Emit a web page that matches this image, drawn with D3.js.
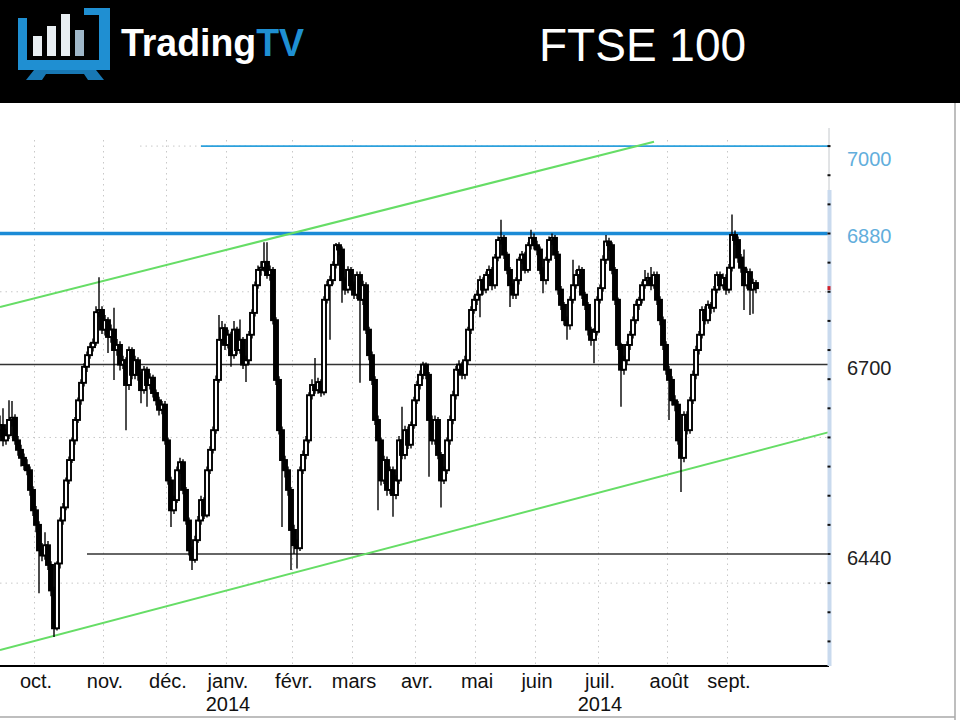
<!DOCTYPE html>
<html>
<head>
<meta charset="utf-8">
<script src="https://cdn.jsdelivr.net/npm/d3@7"></script>
<style>
  html, body { margin: 0; padding: 0; background: #fff; }
  svg { display: block; font-family: "Liberation Sans", Arial, sans-serif; }
</style>
</head>
<body>
<svg id="chart" width="960" height="720"></svg>
<script>
/* ---------- Data (daily FTSE 100, mid-Sept 2013 -> mid-Sept 2014) ---------- */
const firstOpen = 6610;
const closes = [
  6617,6596,6603,6624,6627,6596,6583,6572,6562,6555,
  6528,6500,6480,6445,6438,6452,6425,6390,6338,6427,
  6486,6504,6541,6569,6596,6624,6651,6675,6697,6713,
  6724,6730,6772,6775,6748,6761,6738,6748,6720,6727,
  6700,6706,6672,6720,6686,6706,6686,6665,6693,6672,
  6682,6661,6651,6638,6645,6596,6541,6500,6514,6555,
  6566,6528,6486,6445,6432,6459,6486,6514,6493,6555,
  6583,6610,6679,6734,6750,6727,6741,6713,6748,6720,
  6734,6700,6706,6741,6771,6809,6830,6833,6841,6823,
  6830,6761,6679,6610,6569,6555,6528,6473,6452,6448,
  6555,6576,6596,6658,6672,6665,6676,6662,6789,6809,
  6816,6837,6864,6858,6816,6803,6830,6809,6796,6823,
  6789,6809,6748,6713,6679,6624,6596,6541,6569,6528,
  6555,6521,6541,6596,6576,6610,6590,6617,6651,6672,
  6686,6700,6686,6624,6596,6624,6576,6541,6555,6596,
  6624,6658,6693,6700,6686,6706,6748,6775,6789,6796,
  6816,6803,6823,6830,6809,6847,6871,6874,6851,6830,
  6809,6796,6816,6844,6851,6830,6864,6874,6864,6858,
  6830,6816,6844,6871,6874,6851,6803,6782,6761,6754,
  6789,6809,6823,6830,6796,6782,6748,6734,6745,6789,
  6805,6844,6869,6864,6830,6789,6727,6693,6706,6727,
  6741,6761,6782,6789,6809,6816,6819,6809,6823,6789,
  6761,6727,6693,6679,6651,6645,6596,6572,6631,6610,
  6651,6686,6720,6741,6775,6761,6782,6778,6803,6823,
  6809,6819,6803,6833,6878,6871,6847,6833,6809,6827,
  6803,6812,6805
];
const highs = [
  6630,6640,6612,6651,6650,6632,6602,6590,6578,6570,
  6560,6533,6506,6485,6455,6470,6458,6430,6395,6430,
  6490,6510,6545,6574,6600,6628,6655,6680,6702,6718,
  6730,6736,6780,6820,6780,6768,6765,6755,6778,6735,
  6732,6712,6710,6725,6724,6712,6710,6690,6698,6697,
  6688,6686,6666,6656,6650,6650,6600,6546,6520,6560,
  6572,6570,6532,6490,6450,6465,6492,6520,6518,6560,
  6588,6615,6685,6768,6760,6756,6748,6745,6760,6752,
  6762,6738,6712,6746,6776,6814,6836,6842,6868,6868,
  6836,6834,6765,6684,6615,6575,6560,6532,6480,6460,
  6560,6582,6602,6662,6680,6709,6682,6680,6794,6815,
  6822,6842,6867,6868,6862,6820,6835,6834,6814,6828,
  6828,6815,6813,6752,6718,6684,6630,6600,6575,6574,
  6560,6560,6548,6602,6642,6616,6615,6622,6656,6678,
  6692,6704,6703,6690,6630,6630,6628,6580,6560,6600,
  6630,6664,6698,6706,6704,6712,6752,6780,6795,6802,
  6822,6820,6828,6836,6834,6852,6876,6899,6878,6855,
  6834,6812,6820,6848,6856,6855,6868,6885,6880,6870,
  6862,6834,6848,6876,6880,6878,6856,6808,6786,6766,
  6794,6844,6830,6836,6834,6800,6786,6752,6750,6794,
  6810,6850,6878,6874,6868,6834,6792,6730,6712,6732,
  6746,6766,6788,6793,6814,6830,6826,6834,6828,6828,
  6794,6766,6732,6698,6684,6658,6650,6600,6636,6636,
  6656,6692,6726,6746,6780,6780,6788,6786,6808,6828,
  6828,6825,6824,6838,6906,6884,6876,6852,6858,6832,
  6832,6818,6816
];
const lows = [
  6600,6588,6590,6598,6615,6590,6575,6560,6555,6548,
  6520,6492,6470,6386,6430,6432,6418,6382,6326,6335,
  6420,6480,6500,6536,6565,6590,6620,6645,6670,6690,
  6708,6718,6726,6765,6742,6740,6716,6730,6679,6712,
  6692,6694,6610,6665,6680,6680,6678,6647,6660,6642,
  6666,6655,6644,6630,6632,6590,6535,6477,6495,6510,
  6550,6522,6480,6438,6418,6428,6455,6480,6488,6490,
  6550,6578,6605,6675,6728,6720,6722,6697,6708,6714,
  6715,6694,6676,6700,6736,6766,6804,6822,6828,6818,
  6815,6755,6672,6604,6477,6545,6520,6418,6440,6420,
  6444,6550,6570,6592,6652,6660,6660,6656,6658,6784,
  6734,6810,6832,6850,6785,6796,6798,6802,6790,6790,
  6675,6782,6742,6706,6672,6617,6500,6534,6536,6520,
  6522,6491,6515,6536,6570,6570,6584,6585,6612,6646,
  6666,6680,6680,6546,6590,6590,6570,6504,6536,6550,
  6590,6618,6652,6686,6680,6680,6700,6742,6770,6782,
  6765,6796,6798,6818,6802,6804,6842,6865,6845,6824,
  6779,6790,6790,6810,6838,6825,6826,6858,6858,6850,
  6824,6798,6810,6840,6864,6845,6796,6775,6754,6734,
  6748,6784,6804,6818,6790,6775,6740,6726,6702,6740,
  6784,6800,6838,6856,6824,6782,6720,6642,6686,6700,
  6720,6736,6756,6775,6784,6804,6808,6802,6804,6782,
  6754,6720,6686,6624,6644,6636,6590,6525,6566,6604,
  6605,6646,6680,6714,6736,6755,6756,6770,6772,6798,
  6802,6804,6796,6798,6828,6864,6840,6826,6775,6804,
  6768,6770,6798
];

/* trading days per month: Sept 2013 (partial) ... Sept 2014 (partial) */
const monthDays   = [12, 23, 21, 20, 22, 20, 21, 20, 20, 21, 23, 20, 10];
const monthLabels = ['oct.', 'nov.', 'déc.', 'janv.', 'févr.', 'mars', 'avr.', 'mai', 'juin', 'juil.', 'août', 'sept.'];
const yearMonths  = ['janv.', 'juil.'];
const yearText    = '2014';

const gridLevels   = [6400, 6600, 6800, 7000];
const tickLevels   = [6320, 6360, 6400, 6440, 6480, 6520, 6560, 6600, 6640, 6680, 6720, 6760, 6800, 6840, 6880, 6920, 6960, 7000];
const levelValues  = [7000, 6880, 6700, 6440];
const levelStart   = [67, 0, 0, 29];          // bar index where each level line begins
const levelLabels  = ['7000', '6880', '6700', '6440'];
const trendUpper   = [[0, 6779], [218, 7006]]; // [bar index, price]
const trendLower   = [[0, 6308], [276, 6607]];

/* ---------- Layout ---------- */
const W = 960, H = 720;
const headerH = 103;
const plotRight = 829, axisY = 666;
const levelStyle = [
  { color: '#2ba0dc', width: 1.6, label: '#62aedc', dy: 15 },
  { color: '#1b8bd6', width: 3.4, label: '#62aedc', dy: 4 },
  { color: '#333',    width: 1.5, label: '#222',    dy: 5 },
  { color: '#333',    width: 1.5, label: '#222',    dy: 6 }
];

const svg = d3.select('#chart');
const x = d3.scaleLinear().domain([0, closes.length - 1]).range([0, 756]);
const y = d3.scaleLinear().domain([6440, 6880]).range([554, 233.5]);

const opens = [firstOpen, ...closes.slice(0, -1)];
const bars = closes.map((c, i) => ({ i, o: opens[i], h: highs[i], l: lows[i], c }));

/* ---------- Header ---------- */
svg.append('rect').attr('x', 0).attr('y', 0).attr('width', W).attr('height', headerH).attr('fill', '#000');

const logo = svg.append('g');
const blue = '#1f8fd2';
logo.append('path')
  .attr('d', 'M18,18 H27 V60 H99 V15 H84 V8 H110 V70 H18 Z')
  .attr('fill', blue);
logo.append('path')
  .attr('d', 'M34,70 H96 L104,80 H88 L84,74 H46 L42,80 H26 Z')
  .attr('fill', '#1878b4');
[[33, 36], [47, 26], [61, 14], [75, 30]].forEach(([bx, top], k) => {
  logo.append('rect').attr('x', bx).attr('y', top).attr('width', 9).attr('height', 56 - top)
    .attr('fill', k === 3 ? '#9fb7c9' : '#e8eef2');
});
const brand = svg.append('text').attr('x', 121).attr('y', 56)
  .attr('font-size', 38).attr('font-weight', 'bold')
  .attr('textLength', 183).attr('lengthAdjust', 'spacingAndGlyphs');
brand.append('tspan').attr('fill', '#fff').text('Trading');
brand.append('tspan').attr('fill', blue).text('TV');

svg.append('text').attr('x', 539).attr('y', 61)
  .attr('font-size', 46).attr('fill', '#fff').text('FTSE 100');

/* ---------- Frame ---------- */
svg.append('line').attr('x1', 955).attr('x2', 955).attr('y1', headerH).attr('y2', H)
  .attr('stroke', '#a8a8a8').attr('stroke-width', 1.5);
svg.append('line').attr('x1', 0).attr('x2', 955).attr('y1', 717).attr('y2', 717)
  .attr('stroke', '#a8a8a8').attr('stroke-width', 1.5);

/* ---------- Plot ---------- */
svg.append('clipPath').attr('id', 'plotClip')
  .append('rect').attr('x', 0).attr('y', headerH + 1).attr('width', plotRight).attr('height', axisY - headerH - 1);
const plot = svg.append('g').attr('clip-path', 'url(#plotClip)');

// month starts
const monthStart = [];
let acc = 0;
monthDays.slice(0, -1).forEach(n => { acc += n; monthStart.push(acc); });

// dotted grid
plot.selectAll('line.vgrid').data(monthStart).enter().append('line')
  .attr('class', 'vgrid')
  .attr('x1', d => x(d) - 1.5).attr('x2', d => x(d) - 1.5)
  .attr('y1', 140).attr('y2', axisY)
  .attr('stroke', '#c8c8c8').attr('stroke-dasharray', '1.5,4');
plot.selectAll('line.hgrid').data(gridLevels).enter().append('line')
  .attr('class', 'hgrid')
  .attr('x1', d => d === 7000 ? 140 : 0).attr('x2', plotRight)
  .attr('y1', d => y(d)).attr('y2', d => y(d))
  .attr('stroke', '#c8c8c8').attr('stroke-dasharray', '1.5,4');

// level lines
plot.selectAll('line.level').data(levelValues).enter().append('line')
  .attr('class', 'level')
  .attr('x1', (d, k) => x(levelStart[k])).attr('x2', plotRight)
  .attr('y1', d => y(d)).attr('y2', d => y(d))
  .attr('stroke', (d, k) => levelStyle[k].color)
  .attr('stroke-width', (d, k) => levelStyle[k].width);

// trend channel
[trendUpper, trendLower].forEach(t => {
  plot.append('line')
    .attr('x1', x(t[0][0])).attr('y1', y(t[0][1]))
    .attr('x2', x(t[1][0])).attr('y2', y(t[1][1]))
    .attr('stroke', '#66dd66').attr('stroke-width', 2);
});

// candles
const candle = plot.selectAll('g.candle').data(bars).enter().append('g').attr('class', 'candle');
candle.append('line')
  .attr('x1', d => x(d.i)).attr('x2', d => x(d.i))
  .attr('y1', d => y(d.h)).attr('y2', d => y(d.l))
  .attr('stroke', '#000').attr('stroke-width', 1.4);
candle.append('rect')
  .attr('x', d => x(d.i) - 2)
  .attr('width', 4)
  .attr('y', d => y(Math.max(d.o, d.c)))
  .attr('height', d => Math.max(1, Math.abs(y(d.o) - y(d.c))))
  .attr('fill', d => d.c >= d.o ? '#fff' : '#000')
  .attr('stroke', '#000').attr('stroke-width', 1.9);

/* ---------- Axes ---------- */
svg.append('line').attr('x1', 0).attr('x2', plotRight).attr('y1', axisY).attr('y2', axisY)
  .attr('stroke', '#000').attr('stroke-width', 2);

svg.append('line').attr('x1', plotRight).attr('x2', plotRight).attr('y1', 128).attr('y2', axisY)
  .attr('stroke', '#c4c8cc').attr('stroke-width', 1);
svg.append('rect').attr('x', plotRight - 1.5).attr('y', 190).attr('width', 4).attr('height', axisY - 190)
  .attr('fill', '#c9daee');
svg.selectAll('rect.tick').data(tickLevels).enter().append('rect')
  .attr('class', 'tick')
  .attr('x', plotRight - 1.5).attr('y', d => y(d) - 1)
  .attr('width', 3).attr('height', 2).attr('fill', '#111');
svg.append('rect').attr('x', plotRight - 1.5).attr('y', y(closes[closes.length - 1]) - 2)
  .attr('width', 3).attr('height', 4).attr('fill', '#d0202a');

svg.selectAll('text.ylab').data(levelValues).enter().append('text')
  .attr('class', 'ylab')
  .attr('x', 847).attr('y', (d, k) => y(d) + levelStyle[k].dy)
  .attr('dominant-baseline', 'middle')
  .attr('font-size', 20)
  .attr('fill', (d, k) => levelStyle[k].label)
  .text((d, k) => levelLabels[k]);

svg.selectAll('text.month').data(monthLabels).enter().append('text')
  .attr('class', 'month')
  .attr('x', (d, k) => x(monthStart[k]))
  .attr('y', 688)
  .attr('text-anchor', 'middle')
  .attr('font-size', 20).attr('fill', '#111')
  .text(d => d);

svg.selectAll('text.year').data(yearMonths).enter().append('text')
  .attr('class', 'year')
  .attr('x', d => x(monthStart[monthLabels.indexOf(d)]))
  .attr('y', 711)
  .attr('text-anchor', 'middle')
  .attr('font-size', 20).attr('fill', '#111')
  .text(yearText);
</script>
</body>
</html>
